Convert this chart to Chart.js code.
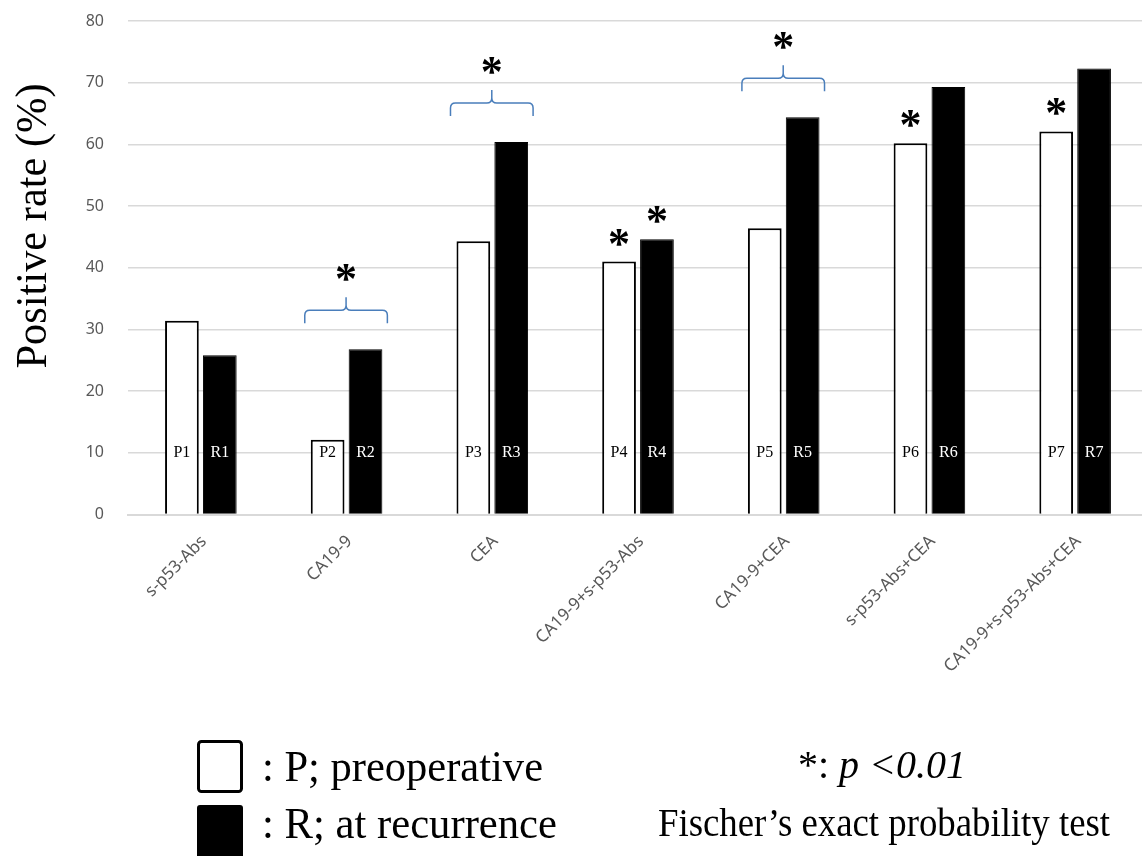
<!DOCTYPE html>
<html>
<head>
<meta charset="utf-8">
<script src="https://cdn.jsdelivr.net/npm/chart.js@4.4.1/dist/chart.umd.min.js"></script>
<style>
  html, body { margin: 0; padding: 0; background: #fff; overflow: hidden; }
  #wrap { position: relative; width: 1148px; height: 856px; }
</style>
</head>
<body>
<div id="wrap"><canvas id="rate-chart"></canvas></div>
<script>
(function () {
    'use strict';

    var categories = ['s-p53-Abs', 'CA19-9', 'CEA', 'CA19-9+s-p53-Abs', 'CA19-9+CEA', 's-p53-Abs+CEA', 'CA19-9+s-p53-Abs+CEA'];
    var preoperative = [31.4, 12.1, 44.3, 41.0, 46.4, 60.2, 62.1];
    var recurrence = [25.8, 26.8, 60.4, 44.6, 64.4, 69.3, 72.3];
    var yTicks = [0, 10, 20, 30, 40, 50, 60, 70, 80];

    // significance marks: braces over P/R pairs, single stars over bars [category, dataset]
    var bracedCategories = [1, 2, 4];
    var starredBars = [[3, 0], [3, 1], [5, 0], [6, 0]];

    var serif = '"Liberation Serif", "Times New Roman", serif';
    var sans = '"Noto Sans", "Open Sans", sans-serif';

    function drawBrace(c, left, right, yEnd) {
        var yLine = yEnd - 13, yTip = yEnd - 26, mid = (left + right) / 2, r = 5;
        c.beginPath();
        c.moveTo(left, yEnd);
        c.lineTo(left, yLine + r);
        c.quadraticCurveTo(left, yLine, left + r, yLine);
        c.lineTo(mid - r, yLine);
        c.quadraticCurveTo(mid, yLine, mid, yLine - r);
        c.lineTo(mid, yTip);
        c.moveTo(mid, yLine - r);
        c.quadraticCurveTo(mid, yLine, mid + r, yLine);
        c.lineTo(right - r, yLine);
        c.quadraticCurveTo(right, yLine, right, yLine + r);
        c.lineTo(right, yEnd);
        c.strokeStyle = '#4a7ebb';
        c.lineWidth = 1.5;
        c.stroke();
    }

    function drawStar(c, x, yCenter) {
        c.font = 'bold 44px ' + serif;
        c.fillStyle = '#000';
        c.textAlign = 'center';
        c.textBaseline = 'alphabetic';
        c.fillText('*', x, yCenter + 20);
    }

    var annotations = {
        id: 'annotations',
        afterDraw: function (chart) {
            var c = chart.ctx;
            var y = chart.scales.y;
            var metaP = chart.getDatasetMeta(0);
            var metaR = chart.getDatasetMeta(1);
            c.save();

            // bar tags at the 10% line
            var tagY = y.getPixelForValue(10);
            c.font = '16px ' + serif;
            c.textAlign = 'center';
            c.textBaseline = 'middle';
            metaP.data.forEach(function (bar, i) {
                c.fillStyle = '#000';
                c.fillText('P' + (i + 1), bar.x, tagY);
            });
            metaR.data.forEach(function (bar, i) {
                c.fillStyle = '#fff';
                c.fillText('R' + (i + 1), bar.x, tagY);
            });

            bracedCategories.forEach(function (i) {
                var p = metaP.data[i], r = metaR.data[i];
                var left = p.x - p.width / 2 - 6;
                var right = r.x + r.width / 2 + 5;
                var yEnd = y.getPixelForValue(Math.max(preoperative[i], recurrence[i])) - 26;
                drawBrace(c, left, right, yEnd);
                drawStar(c, (left + right) / 2, yEnd - 50);
            });

            starredBars.forEach(function (s) {
                var bar = chart.getDatasetMeta(s[1]).data[s[0]];
                drawStar(c, bar.x, bar.y - 24);
            });

            // y axis title
            c.save();
            c.translate(46, 226);
            c.rotate(-Math.PI / 2);
            c.font = '45px ' + serif;
            c.fillStyle = '#000';
            c.textAlign = 'center';
            c.textBaseline = 'alphabetic';
            c.fillText('Positive rate (%)', 0, 0, 285);
            c.restore();

            // legend boxes
            c.lineWidth = 3;
            c.strokeStyle = '#000';
            c.fillStyle = '#fff';
            c.beginPath();
            c.roundRect(198.5, 741.5, 43, 50, 3);
            c.fill();
            c.stroke();
            c.fillStyle = '#000';
            c.beginPath();
            c.roundRect(197, 805, 46, 60, 3);
            c.fill();

            c.textAlign = 'left';
            c.textBaseline = 'alphabetic';
            c.font = '45px ' + serif;
            c.fillText(': P; preoperative', 262, 781, 281);
            c.fillText(': R; at recurrence', 262, 838, 295);
            c.font = '40px ' + serif;
            c.fillText('Fischer\u2019s exact probability test', 658, 836, 452);
            c.fillText('*: ', 798, 778);
            var w = c.measureText('*: ').width;
            c.font = 'italic 40px ' + serif;
            c.fillText('p <0.01', 798 + w, 778, 975 - 798 - w);

            c.restore();
        }
    };

    new Chart(document.getElementById('rate-chart'), {
        type: 'bar',
        data: {
            labels: categories,
            datasets: [
                {
                    label: 'P; preoperative',
                    data: preoperative,
                    backgroundColor: '#fff',
                    borderColor: '#000',
                    borderWidth: 2,
                    barPercentage: 0.89,
                    categoryPercentage: 0.52
                },
                {
                    label: 'R; at recurrence',
                    data: recurrence,
                    backgroundColor: '#000',
                    borderColor: '#000',
                    borderWidth: 1,
                    barPercentage: 0.89,
                    categoryPercentage: 0.52
                }
            ]
        },
        options: {
            responsive: true,
            maintainAspectRatio: false,
            animation: false,
            layout: { padding: { top: 21, right: 0, bottom: 160, left: 0 } },
            plugins: {
                legend: { display: false },
                tooltip: { enabled: false }
            },
            scales: {
                x: {
                    grid: { display: false, drawTicks: false },
                    border: { color: '#d9d9d9', width: 2 },
                    ticks: {
                        color: '#595959',
                        font: { family: sans, size: 17 },
                        minRotation: 45,
                        maxRotation: 45,
                        padding: 17,
                        labelOffset: 3
                    },
                    afterFit: function (s) {
                        s.height = 181.5;
                        s.paddingLeft = 0;
                        s.paddingRight = 0;
                    }
                },
                y: {
                    min: 0,
                    max: 80,
                    afterBuildTicks: function (s) {
                        s.ticks = yTicks.map(function (v) { return { value: v }; });
                    },
                    grid: { color: '#d9d9d9', lineWidth: 1.5, drawTicks: false },
                    border: { display: false },
                    ticks: {
                        color: '#595959',
                        font: { family: sans, size: 16 },
                        padding: 24
                    },
                    afterFit: function (s) {
                        s.width = 128;
                        s.paddingTop = 0;
                        s.paddingBottom = 0;
                    }
                }
            }
        },
        plugins: [annotations]
    });
})();
</script>
</body>
</html>
